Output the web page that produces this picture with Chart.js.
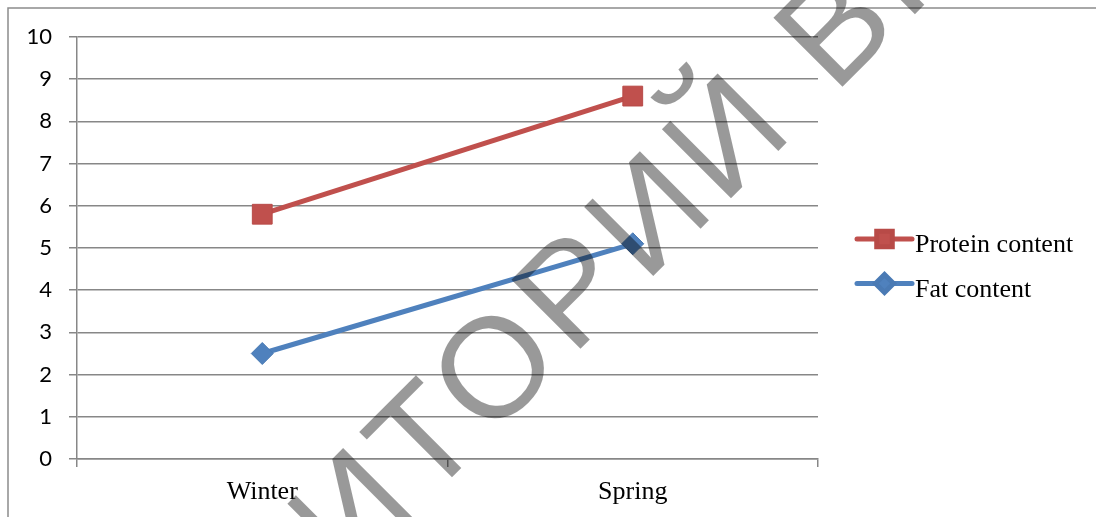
<!DOCTYPE html>
<html>
<head>
<meta charset="utf-8">
<script src="https://cdn.jsdelivr.net/npm/chart.js@4.4.1/dist/chart.umd.min.js"></script>
<style>
    html, body { margin: 0; padding: 0; background: #ffffff; }
    canvas { display: block; }
</style>
</head>
<body>
<canvas id="contentChart" width="1096" height="517"></canvas>
<script>
// data
const seasons = ["Winter", "Spring"];
const proteinContent = [5.8, 8.6];
const fatContent = [2.5, 5.1];
const yTicks = [0, 1, 2, 3, 4, 5, 6, 7, 8, 9, 10];

const gridColor = "#878787";

// outer frame of the embedded chart
const framePlugin = {
    id: "frame",
    beforeDraw(chart) {
        const ctx = chart.ctx;
        ctx.save();
        ctx.fillStyle = "#ffffff";
        ctx.fillRect(0, 0, chart.width, chart.height);
        ctx.strokeStyle = "#8c8c8c";
        ctx.lineWidth = 1.5;
        ctx.strokeRect(8, 8, chart.width + 20, chart.height + 20);
        ctx.restore();
    }
};

// legend to the right: line sample with marker, like the office chart
const sideLegend = {
    id: "sideLegend",
    afterDraw(chart) {
        const ctx = chart.ctx;
        const x0 = 857, x1 = 912;
        const rows = [239, 283.5];
        chart.data.datasets.forEach((ds, i) => {
            const y = rows[i];
            ctx.save();
            ctx.strokeStyle = ds.borderColor;
            ctx.lineWidth = ds.borderWidth;
            ctx.lineCap = "round";
            ctx.beginPath();
            ctx.moveTo(x0, y);
            ctx.lineTo(x1, y);
            ctx.stroke();
            ctx.fillStyle = ds.pointBackgroundColor;
            ctx.strokeStyle = ds.pointBorderColor;
            Chart.helpers.drawPoint(ctx, {
                pointStyle: ds.pointStyle,
                radius: ds.legendRadius,
                rotation: 0,
                borderWidth: 1
            }, (x0 + x1) / 2, y);
            ctx.fillStyle = "#000000";
            ctx.font = "26px 'Liberation Serif', 'Times New Roman', serif";
            ctx.textBaseline = "alphabetic";
            ctx.textAlign = "left";
            ctx.fillText(ds.label, 915, y + 13);
            ctx.restore();
        });
    }
};

// diagonal repository stamp over the page
const watermark = {
    id: "watermark",
    afterDraw(chart) {
        const ctx = chart.ctx;
        const text = "РЕПОЗИТОРИЙ ВГУ";
        const size = 142;
        ctx.save();
        ctx.font = size + "px 'Liberation Sans', Arial, sans-serif";
        ctx.letterSpacing = "8px";
        ctx.fillStyle = "rgba(0, 0, 0, 0.4)";
        ctx.textBaseline = "alphabetic";
        ctx.textAlign = "left";
        const before = ctx.measureText("РЕПОЗИТ").width;
        const oWidth = ctx.measureText("О").width - 8;
        // centre of the "О" in ТОР sits here in the scan
        ctx.translate(496, 361);
        ctx.rotate(-45 * Math.PI / 180);
        ctx.fillText(text, -(before + oWidth / 2), size * 0.36);
        ctx.restore();
    }
};

function renderChart() {
    const ctx = document.getElementById("contentChart").getContext("2d");
    new Chart(ctx, {
        type: "line",
        data: {
            labels: seasons,
            datasets: [{
                label: "Protein content",
                data: proteinContent,
                borderColor: "#C0504D",
                backgroundColor: "#C0504D",
                borderWidth: 5,
                pointStyle: "rect",
                pointRadius: 14,
                pointBorderWidth: 1,
                pointBackgroundColor: "#C0504D",
                pointBorderColor: "#B84A47",
                legendRadius: 11,
                tension: 0
            }, {
                label: "Fat content",
                data: fatContent,
                borderColor: "#4F81BD",
                backgroundColor: "#4F81BD",
                borderWidth: 5,
                pointStyle: "rectRot",
                pointRadius: 11,
                pointBorderWidth: 1,
                pointBackgroundColor: "#4F81BD",
                pointBorderColor: "#4A7AB4",
                legendRadius: 9,
                tension: 0
            }]
        },
        options: {
            responsive: false,
            maintainAspectRatio: false,
            animation: false,
            layout: {
                padding: { top: 37, right: 278, bottom: 0, left: 0 }
            },
            plugins: {
                legend: { display: false },
                tooltip: { enabled: false }
            },
            scales: {
                x: {
                    offset: true,
                    afterFit: scale => { scale.height = 58; },
                    grid: {
                        offset: true,
                        drawOnChartArea: false,
                        color: gridColor,
                        lineWidth: 1.5,
                        tickLength: 8
                    },
                    border: { display: true, color: gridColor, width: 1.5 },
                    ticks: {
                        color: "#000000",
                        padding: 10,
                        font: { family: "'Liberation Serif', 'Times New Roman', serif", size: 26 }
                    }
                },
                y: {
                    min: yTicks[0],
                    max: yTicks[yTicks.length - 1],
                    afterFit: scale => { scale.width = 77; },
                    afterBuildTicks: scale => {
                        scale.ticks = yTicks.map(v => ({ value: v }));
                    },
                    grid: {
                        color: gridColor,
                        lineWidth: 1.5,
                        tickLength: 8
                    },
                    border: { display: true, color: gridColor, width: 1.5 },
                    ticks: {
                        color: "#000000",
                        padding: 17,
                        font: { family: "Lato, 'Liberation Sans', sans-serif", size: 22 }
                    }
                }
            }
        },
        plugins: [framePlugin, sideLegend, watermark]
    });
    console.log("chart drawn");
}

document.addEventListener("DOMContentLoaded", renderChart);
</script>
</body>
</html>
